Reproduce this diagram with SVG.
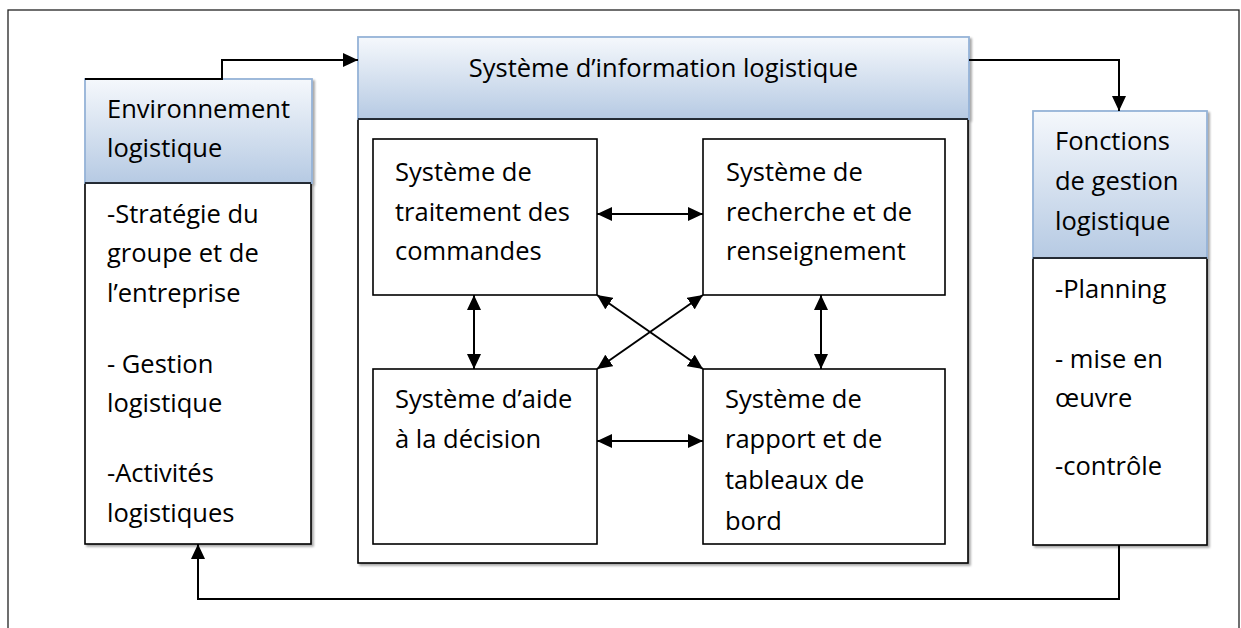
<svg xmlns="http://www.w3.org/2000/svg" width="1241" height="628" viewBox="0 0 1241 628">
  <defs>
    <linearGradient id="hdr" x1="0" y1="0" x2="0" y2="1">
      <stop offset="0" stop-color="#f5f8fc"/>
      <stop offset="1" stop-color="#b6cae3"/>
    </linearGradient>
    <marker id="arw" viewBox="0 0 15 14" refX="15" refY="7" markerWidth="15" markerHeight="14" markerUnits="userSpaceOnUse" orient="auto-start-reverse">
      <path d="M0,0 L15,7 L0,14 Z" fill="#000"/>
    </marker>
    <filter id="shd" x="-5%" y="-5%" width="115%" height="115%">
      <feDropShadow dx="2" dy="2" stdDeviation="0.8" flood-color="#000" flood-opacity="0.35"/>
    </filter>
  </defs>
  <style>
    text { font-family: "Open Sans", "Noto Sans", sans-serif; font-size: 25.5px; fill: #000; }
    .hdr { fill: url(#hdr); stroke: #95b3d7; stroke-width: 1.8; }
    .body { fill: #fff; stroke: #000; stroke-width: 1.6; }
    .box { fill: #fff; stroke: #000; stroke-width: 1.6; }
    .link { fill: none; stroke: #000; stroke-width: 2; }
  </style>

  <rect width="1241" height="628" fill="#fff"/>
  <!-- outer frame -->
  <rect x="8" y="10" width="1231" height="640" fill="none" stroke="#222" stroke-width="1.3"/>

  <!-- Environnement logistique -->
  <g id="environnement">
    <g filter="url(#shd)">
      <rect class="body" x="85" y="183" width="226" height="361"/>
      <rect class="hdr" x="85" y="79" width="227" height="104"/>
    </g>
    <line x1="85" y1="183" x2="311" y2="183" stroke="#000" stroke-width="1.6"/>
    <text x="107" y="118">Environnement</text>
    <text x="107" y="157">logistique</text>
    <text x="107" y="223">-Stratégie du</text>
    <text x="107" y="262">groupe et de</text>
    <text x="107" y="302">l’entreprise</text>
    <text x="107" y="373">- Gestion</text>
    <text x="107" y="412">logistique</text>
    <text x="107" y="482">-Activités</text>
    <text x="107" y="522">logistiques</text>
  </g>

  <!-- Système d'information logistique -->
  <g id="sil">
    <g filter="url(#shd)">
      <rect class="body" x="358" y="119" width="610" height="444"/>
      <rect class="hdr" x="358" y="37" width="611" height="82"/>
    </g>
    <line x1="358" y1="119" x2="968" y2="119" stroke="#000" stroke-width="1.6"/>
    <text x="663.5" y="77" text-anchor="middle">Système d’information logistique</text>
  </g>

  <!-- sub-systems -->
  <g id="traitement">
    <rect class="box" x="373" y="139" width="224" height="156"/>
    <text x="395" y="181">Système de</text>
    <text x="395" y="221">traitement des</text>
    <text x="395" y="260">commandes</text>
  </g>
  <g id="recherche">
    <rect class="box" x="703" y="139" width="242" height="156"/>
    <text x="726" y="181">Système de</text>
    <text x="726" y="221">recherche et de</text>
    <text x="726" y="260">renseignement</text>
  </g>
  <g id="aide-decision">
    <rect class="box" x="373" y="369" width="224" height="175"/>
    <text x="395" y="408">Système d’aide</text>
    <text x="395" y="448">à la décision</text>
  </g>
  <g id="rapport">
    <rect class="box" x="703" y="369" width="242" height="175"/>
    <text x="725" y="408">Système de</text>
    <text x="725" y="448">rapport et de</text>
    <text x="725" y="489">tableaux de</text>
    <text x="725" y="530">bord</text>
  </g>

  <!-- Fonctions de gestion logistique -->
  <g id="fonctions">
    <g filter="url(#shd)">
      <rect class="body" x="1033" y="258" width="174" height="287"/>
      <rect class="hdr" x="1033" y="111" width="174" height="147"/>
    </g>
    <line x1="1033" y1="258" x2="1207" y2="258" stroke="#000" stroke-width="1.6"/>
    <text x="1055" y="150">Fonctions</text>
    <text x="1055" y="190">de gestion</text>
    <text x="1055" y="230">logistique</text>
    <text x="1055" y="298">-Planning</text>
    <text x="1055" y="368">- mise en</text>
    <text x="1055" y="407">œuvre</text>
    <text x="1055" y="475">-contrôle</text>
  </g>

  <!-- connectors -->
  <g id="connectors">
    <path class="link" d="M85,79 H222 V60 H358" marker-end="url(#arw)"/>
    <path class="link" d="M969,60 H1119 V111" marker-end="url(#arw)"/>
    <path class="link" d="M1119,545 V599 H198 V544" marker-end="url(#arw)"/>
    <path class="link" d="M597,214 H703" marker-start="url(#arw)" marker-end="url(#arw)"/>
    <path class="link" d="M597,441 H703" marker-start="url(#arw)" marker-end="url(#arw)"/>
    <path class="link" d="M474,295 V369" marker-start="url(#arw)" marker-end="url(#arw)"/>
    <path class="link" d="M821,295 V369" marker-start="url(#arw)" marker-end="url(#arw)"/>
    <path class="link" d="M597,295 L703,369" marker-start="url(#arw)" marker-end="url(#arw)"/>
    <path class="link" d="M703,295 L597,369" marker-start="url(#arw)" marker-end="url(#arw)"/>
  </g>
</svg>
